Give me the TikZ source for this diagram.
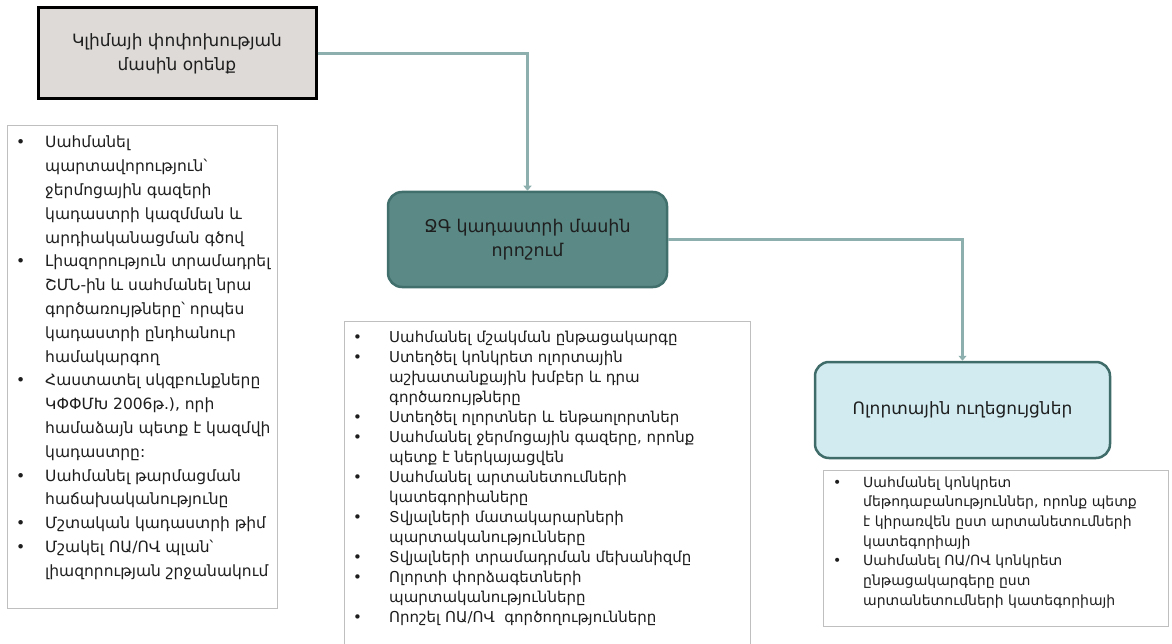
\documentclass[tikz,border=0pt]{standalone}
\usepackage{fontspec}
\setmainfont{DejaVu Sans}
\usetikzlibrary{arrows.meta}
\definecolor{lawfill}{HTML}{DDDAD7}
\definecolor{decfill}{HTML}{5B8985}
\definecolor{decline}{HTML}{41706C}
\definecolor{regfill}{HTML}{D1EBF0}
\definecolor{regline}{HTML}{3F6B68}
\definecolor{wire}{HTML}{8DB0AE}
\definecolor{frame}{HTML}{BFBFBF}
\definecolor{ink}{HTML}{1E1E1E}

\begin{document}
\begin{tikzpicture}[
    x=1pt, y=-1pt,
    every node/.style={text=ink},
    lawbox/.style={draw=black, line width=3pt, fill=lawfill, align=center,
        minimum width=278pt, minimum height=91pt, font=\fontsize{17}{24}\selectfont},
    decbox/.style={draw=decline, line width=2.5pt, fill=decfill, rounded corners=14pt,
        align=center, minimum width=279pt, minimum height=95pt, font=\fontsize{17.5}{24}\selectfont},
    regbox/.style={draw=regline, line width=2.5pt, fill=regfill, rounded corners=14pt,
        align=center, minimum width=295pt, minimum height=96pt, font=\fontsize{17}{22}\selectfont},
    listbox/.style={draw=frame, line width=1pt, fill=white, anchor=north west},
    listtext/.style={anchor=base west, inner sep=0pt},
    conn/.style={wire, line width=2.2pt, -{Triangle[width=8pt,length=5pt]}},
]
\useasboundingbox (0,0) rectangle (1172,644);

% Law box
\node[lawbox] (law) at (177,53.5) {Կլիմայի փոփոխության\\մասին օրենք};

% Decision box
\node[decbox] (decision) at (527.5,239.5) {ՋԳ կադաստրի մասին\\որոշում};

% Sector guidelines box
\node[regbox] (guides) at (962.5,410) {Ոլորտային ուղեցույցներ};

% Connectors
\draw[conn] (law.east) -| (decision.north);
\draw[conn] (decision.east) -| (guides.north);

% Left list
\node[listbox, minimum width=270pt, minimum height=483pt] (lawlist) at (7,125) {};
\node[listtext, font=\fontsize{15.5}{23.8}\selectfont] (lawitems) at (16,148) {%
\begin{tabular}[t]{@{}p{29pt}@{}l@{}}
• & Սահմանել\\
  & պարտավորություն՝\\
  & ջերմոցային գազերի\\
  & կադաստրի կազմման և\\
  & արդիականացման գծով\\
• & Լիազորություն տրամադրել\\
  & ՇՄՆ-ին և սահմանել նրա\\
  & գործառույթները՝ որպես\\
  & կադաստրի ընդհանուր\\
  & համակարգող\\
• & Հաստատել սկզբունքները\\
  & ԿՓՓՄԽ 2006թ.), որի\\
  & համաձայն պետք է կազմվի\\
  & կադաստրը:\\
• & Սահմանել թարմացման\\
  & հաճախականությունը\\
• & Մշտական կադաստրի թիմ\\
• & Մշակել ՈԱ/ՈՎ պլան՝\\
  & լիազորության շրջանակում
\end{tabular}};

% Centre list
\node[listbox, minimum width=406pt, minimum height=330pt] (declist) at (344,321) {};
\node[listtext, font=\fontsize{15}{20}\selectfont] (decitems) at (353,342) {%
\begin{tabular}[t]{@{}p{36pt}@{}l@{}}
• & Սահմանել մշակման ընթացակարգը\\
• & Ստեղծել կոնկրետ ոլորտային\\
  & աշխատանքային խմբեր և դրա\\
  & գործառույթները\\
• & Ստեղծել ոլորտներ և ենթաոլորտներ\\
• & Սահմանել ջերմոցային գազերը, որոնք\\
  & պետք է ներկայացվեն\\
• & Սահմանել արտանետումների\\
  & կատեգորիաները\\
• & Տվյալների մատակարարների\\
  & պարտականությունները\\
• & Տվյալների տրամադրման մեխանիզմը\\
• & Ոլորտի փորձագետների\\
  & պարտականությունները\\
• & Որոշել ՈԱ/ՈՎ~ գործողությունները
\end{tabular}};

% Right list
\node[listbox, minimum width=345pt, minimum height=156pt] (guidelist) at (823,470) {};
\node[listtext, font=\fontsize{14}{19.7}\selectfont] (guideitems) at (833,487) {%
\begin{tabular}[t]{@{}p{30pt}@{}l@{}}
• & Սահմանել կոնկրետ\\
  & մեթոդաբանություններ, որոնք պետք\\
  & է կիրառվեն ըստ արտանետումների\\
  & կատեգորիայի\\
• & Սահմանել ՈԱ/ՈՎ կոնկրետ\\
  & ընթացակարգերը ըստ\\
  & արտանետումների կատեգորիայի
\end{tabular}};

\end{tikzpicture}
\end{document}
